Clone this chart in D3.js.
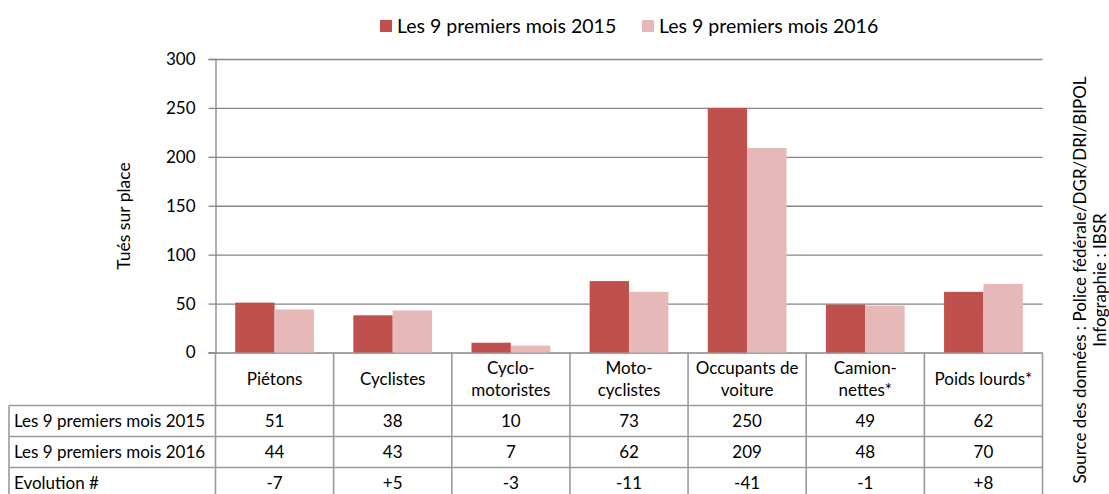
<!DOCTYPE html>
<html>
<head>
<meta charset="utf-8">
<script src="https://cdn.jsdelivr.net/npm/d3@7"></script>
<style>
  body { margin: 0; background: #fff; }
  svg text { font-family: Lato, "Open Sans", sans-serif; fill: #000; }
</style>
</head>
<body>
<svg id="chart" width="1109" height="494"></svg>
<script>
// data
const categories = [`Piétons`, `Cyclistes`, `Cyclomotoristes`, `Motocyclistes`, `Occupants de voiture`, `Camionnettes*`, `Poids lourds*`];
const categoryLines = [[`Piétons`], [`Cyclistes`], [`Cyclo-`, `motoristes`], [`Moto-`, `cyclistes`], [`Occupants de`, `voiture`], [`Camion-`, `nettes*`], [`Poids lourds*`]];
const seriesNames = [`Les 9 premiers mois 2015`, `Les 9 premiers mois 2016`];
const values2015 = [51, 38, 10, 73, 250, 49, 62];
const values2016 = [44, 43, 7, 62, 209, 48, 70];
const evolution = [`-7`, `+5`, `-3`, `-11`, `-41`, `-1`, `+8`];
const yTicks = [0, 50, 100, 150, 200, 250, 300];

const colors = [`#C0504D`, `#E6B9B8`];
const gridColor = `#868686`;
const tableColor = `#9a9a9a`;

const svg = d3.select(`#chart`);

const plotLeft = 215.5;
const plotRight = 1042.5;
const plotTop = 59;
const plotBottom = 352.5;

const x = d3.scaleBand()
    .domain(categories)
    .range([plotLeft, plotRight])
    .padding(0);

const xInner = d3.scaleBand()
    .domain(seriesNames)
    .range([0, x.bandwidth()])
    .paddingInner(0)
    .paddingOuter(0.5);

const y = d3.scaleLinear()
    .domain([0, 300])
    .range([plotBottom, plotTop]);

// gridlines
svg.append(`g`)
    .attr(`transform`, `translate(${plotLeft}, 0)`)
    .call(d3.axisLeft(y).tickValues(yTicks).tickSize(-(plotRight - plotLeft)).tickFormat(``))
    .call(g => g.select(`.domain`).remove())
    .call(g => g.selectAll(`line`).attr(`stroke`, gridColor).attr(`stroke-width`, 1.3));

// bars
const rows = categories.map((c, i) => ({ cat: c, vals: [values2015[i], values2016[i]] }));
svg.append(`g`)
    .selectAll(`g`)
    .data(rows)
    .join(`g`)
    .attr(`transform`, d => `translate(${x(d.cat)}, 0)`)
    .selectAll(`rect`)
    .data(d => d.vals.map((v, j) => ({ name: seriesNames[j], value: v, idx: j })))
    .join(`rect`)
    .attr(`x`, d => xInner(d.name))
    .attr(`width`, xInner.bandwidth())
    .attr(`y`, d => y(d.value))
    .attr(`height`, d => y(0) - y(d.value))
    .attr(`fill`, d => colors[d.idx]);

// y axis
svg.append(`g`)
    .attr(`transform`, `translate(${plotLeft}, 0)`)
    .call(d3.axisLeft(y).tickValues(yTicks).tickSize(7).tickPadding(13))
    .call(g => g.select(`.domain`).attr(`stroke`, gridColor).attr(`stroke-width`, 1.3))
    .call(g => g.selectAll(`line`).attr(`stroke`, gridColor).attr(`stroke-width`, 1.3))
    .call(g => g.selectAll(`text`).attr(`font-size`, 17).attr(`font-family`, `Lato, sans-serif`).attr(`fill`, `#000`));

svg.append(`text`)
    .attr(`transform`, `translate(130, 216) rotate(-90)`)
    .attr(`text-anchor`, `middle`)
    .attr(`font-size`, 17.5)
    .text(`Tués sur place`);

// data table
const rowEdges = [plotBottom, 405.5, 436.5, 467.5, 500];
const tableLeft = 9;
const table = svg.append(`g`).attr(`stroke`, tableColor).attr(`stroke-width`, 1.6);

// header row verticals (category boundaries)
const boundaries = categories.map(c => x(c)).concat([plotRight]);
table.selectAll(`line.v`)
    .data(boundaries)
    .join(`line`)
    .attr(`x1`, d => d).attr(`x2`, d => d)
    .attr(`y1`, plotBottom).attr(`y2`, rowEdges[4]);

// left border of label column
table.append(`line`)
    .attr(`x1`, tableLeft).attr(`x2`, tableLeft)
    .attr(`y1`, rowEdges[1]).attr(`y2`, rowEdges[4]);

// horizontal row lines
table.selectAll(`line.h`)
    .data(rowEdges.slice(1, 4))
    .join(`line`)
    .attr(`x1`, tableLeft).attr(`x2`, plotRight)
    .attr(`y1`, d => d).attr(`y2`, d => d);

// header labels
const header = svg.append(`g`);
categoryLines.forEach((lines, i) => {
    const cx = x(categories[i]) + x.bandwidth() / 2;
    const cy = (rowEdges[0] + rowEdges[1]) / 2;
    const lh = 22;
    lines.forEach((line, k) => {
        header.append(`text`)
            .attr(`x`, cx)
            .attr(`y`, cy + (k - (lines.length - 1) / 2) * lh)
            .attr(`dy`, `0.35em`)
            .attr(`text-anchor`, `middle`)
            .attr(`font-size`, 17)
            .text(line);
    });
});

// data rows
const tableRows = [
    { label: seriesNames[0], cells: values2015.map(String) },
    { label: seriesNames[1], cells: values2016.map(String) },
    { label: `Evolution #`, cells: evolution }
];
tableRows.forEach((r, i) => {
    const cy = (rowEdges[i + 1] + Math.min(rowEdges[i + 2], 498)) / 2;
    svg.append(`text`)
        .attr(`x`, tableLeft + 5)
        .attr(`y`, cy)
        .attr(`dy`, `0.35em`)
        .attr(`font-size`, 17)
        .text(r.label);
    r.cells.forEach((v, j) => {
        svg.append(`text`)
            .attr(`x`, x(categories[j]) + x.bandwidth() / 2)
            .attr(`y`, cy)
            .attr(`dy`, `0.35em`)
            .attr(`text-anchor`, `middle`)
            .attr(`font-size`, 17)
            .text(v);
    });
});

// legend
const legend = svg.append(`g`);
const legendX = [380, 642];
seriesNames.forEach((name, i) => {
    legend.append(`rect`)
        .attr(`x`, legendX[i])
        .attr(`y`, 20)
        .attr(`width`, 12)
        .attr(`height`, 12)
        .attr(`fill`, colors[i]);
    legend.append(`text`)
        .attr(`x`, legendX[i] + 17)
        .attr(`y`, 26)
        .attr(`dy`, `0.35em`)
        .attr(`font-size`, 19.5)
        .text(name);
});

// source note
const note = svg.append(`g`).attr(`transform`, `translate(1080, 280) rotate(-90)`);
note.append(`text`)
    .attr(`text-anchor`, `middle`)
    .attr(`font-size`, 17)
    .attr(`dy`, `0.35em`)
    .text(`Source des données : Police fédérale/DGR/DRI/BIPOL`);
note.append(`text`)
    .attr(`text-anchor`, `middle`)
    .attr(`font-size`, 17)
    .attr(`y`, 20)
    .attr(`dy`, `0.35em`)
    .text(`Infographie : IBSR`);
</script>
</body>
</html>
